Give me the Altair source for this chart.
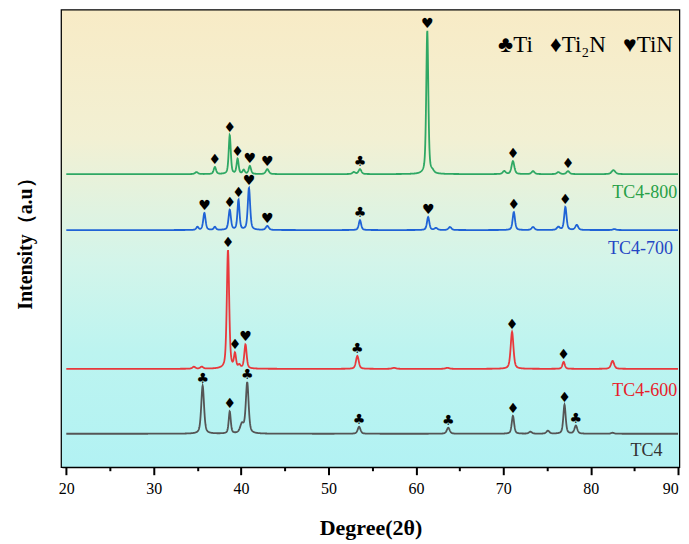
import altair as alt
import numpy as np
import pandas as pd

# ---------------- data ----------------
series_names = ["TC4", "TC4-600", "TC4-700", "TC4-800"]
line_colors = ["#555555", "#e8393c", "#1f63d6", "#2fa864"]
label_colors = ["#333333", "#e8202a", "#2446c4", "#27a046"]
offsets = [33, 98, 237, 293]

tc4_pos = [35.6, 38.7, 40.1, 40.7, 53.5, 63.7, 71.1, 73.1, 75.1, 77.0, 78.3, 82.5]
tc4_hgt = [48, 22, 9, 51, 7, 6, 18, 2, 3, 29, 8, 1]
tc4_fwhm = [0.38, 0.28, 0.5, 0.38, 0.38, 0.4, 0.32, 0.4, 0.4, 0.32, 0.38, 0.4]

tc600_pos = [34.6, 35.5, 38.5, 39.3, 39.8, 40.5, 53.3, 57.5, 63.6, 71.0, 76.9, 82.5]
tc600_hgt = [2, 2, 119, 14, 3, 24, 13, 1, 1, 37, 7, 8]
tc600_fwhm = [0.4, 0.4, 0.32, 0.28, 0.3, 0.32, 0.38, 0.5, 0.5, 0.38, 0.32, 0.42]

tc700_pos = [35.0, 35.8, 37.0, 38.7, 39.7, 40.9, 43.0, 53.6, 61.4, 62.3, 63.9, 71.2, 73.4, 76.3, 77.1, 78.4, 82.7]
tc700_hgt = [3, 17, 3, 20, 30, 42, 4, 10, 13, 2, 3, 18, 3, 3, 23, 5, 1]
tc700_fwhm = [0.3, 0.32, 0.3, 0.32, 0.28, 0.32, 0.4, 0.32, 0.32, 0.4, 0.4, 0.32, 0.4, 0.4, 0.32, 0.4, 0.4]

tc800_pos = [34.9, 37.0, 38.7, 39.6, 40.3, 41.0, 43.0, 52.9, 53.6, 61.3, 61.9, 70.1, 71.1, 73.4, 76.3, 77.4, 82.6]
tc800_hgt = [2, 7, 39, 15, 4, 8, 5, 2, 5, 144, 2, 3, 13, 3, 2, 3, 4]
tc800_fwhm = [0.4, 0.32, 0.28, 0.28, 0.3, 0.32, 0.4, 0.4, 0.38, 0.28, 0.4, 0.4, 0.38, 0.4, 0.4, 0.4, 0.5]

# phase markers: (series index, 2theta, symbol)
marker_series = [3, 3, 3, 3, 3, 3, 3, 3, 3,
                 2, 2, 2, 2, 2, 2, 2, 2, 2,
                 1, 1, 1, 1, 1, 1,
                 0, 0, 0, 0, 0, 0, 0, 0]
marker_pos = [37.0, 38.7, 39.6, 41.0, 43.0, 53.6, 61.3, 71.1, 77.4,
              35.8, 38.7, 39.7, 40.9, 43.0, 53.6, 61.4, 71.2, 77.1,
              38.5, 39.3, 40.5, 53.3, 71.0, 76.9,
              35.6, 38.7, 40.7, 53.5, 63.7, 71.1, 77.0, 78.3]
marker_sym = ["♦", "♦", "♦", "♥", "♥", "♣", "♥", "♦", "♦",
              "♥", "♦", "♦", "♥", "♥", "♣", "♥", "♦", "♦",
              "♦", "♦", "♥", "♣", "♦", "♦",
              "♣", "♦", "♣", "♣", "♣", "♦", "♦", "♣"]

label_x = [88.2, 89.9, 89.4, 89.9]
label_y = [16, 76, 218, 274]

legend_text = "♣Ti\u00a0\u00a0\u00a0♦Ti₂N\u00a0\u00a0\u00a0♥TiN"

# ---------------- build profiles from the peak lists ----------------
peaks = [(tc4_pos, tc4_hgt, tc4_fwhm), (tc600_pos, tc600_hgt, tc600_fwhm),
         (tc700_pos, tc700_hgt, tc700_fwhm), (tc800_pos, tc800_hgt, tc800_fwhm)]
grid = np.arange(20.0, 90.0001, 0.03)


def profile(pos, hgt, fwhm):
    y = np.zeros_like(grid)
    for p, h, w in zip(pos, hgt, fwhm):
        u = (grid - p) / (w / 2)
        y += h * (0.5 / (1 + u ** 2) + 0.5 * np.exp(-np.log(2) * u ** 2))
    return y


rows = []
curves = []
for i, (pos, hgt, fwhm) in enumerate(peaks):
    c = profile(pos, hgt, fwhm) + offsets[i]
    curves.append(c)
    rows.append(pd.DataFrame({"x": np.round(grid, 3), "y": np.round(c, 2),
                              "s": series_names[i], "o": i}))
lines_df = pd.concat(rows, ignore_index=True)

mk = []
for s, p, sym in zip(marker_series, marker_pos, marker_sym):
    idx = np.abs(grid - p) <= 0.15
    top = curves[s][idx].max()
    mk.append({"x": p, "y": float(top) + 3, "t": sym})
markers_df = pd.DataFrame(mk)

labels_df = pd.DataFrame({"x": label_x, "y": label_y, "t": series_names,
                          "c": label_colors})

W, H = 618, 457
xscale = alt.Scale(domain=[19.5, 90.1], nice=False, zero=False)
yscale = alt.Scale(domain=[0, H], nice=False, zero=False)

grad = alt.LinearGradient(
    gradient="linear", x1=0, y1=0, x2=0, y2=1,
    stops=[alt.GradientStop(offset=0, color="#f8ebc6"),
           alt.GradientStop(offset=0.28, color="#f2f0d3"),
           alt.GradientStop(offset=0.55, color="#d3f5ea"),
           alt.GradientStop(offset=0.75, color="#bcf4f0"),
           alt.GradientStop(offset=1, color="#b2f2f3")])

bg = alt.Chart(pd.DataFrame({"a": [0]})).mark_rect(color=grad).encode(
    x=alt.value(0), x2=alt.value(W), y=alt.value(0), y2=alt.value(H))

xaxis = alt.Axis(
    values=list(range(20, 91, 5)),
    labelExpr="datum.value % 10 === 0 ? datum.label : ''",
    tickSize={"condition": {"test": "datum.value % 10 === 0", "value": 8}, "value": 4},
    labelOverlap=False, grid=False, title="Degree(2θ)",
    labelFont="Liberation Serif", labelFontSize=16, labelColor="black",
    labelPadding=6, tickColor="black", tickWidth=2, domainColor="black",
    domainWidth=2, titleFont="Liberation Serif", titleFontSize=22,
    titleFontWeight="bold", titleColor="black", titlePadding=21)
yaxis = alt.Axis(labels=False, ticks=False, domain=False, grid=False,
                 title="Intensity（a.u）", titleFont="Liberation Serif",
                 titleFontSize=20, titleFontWeight="bold", titleColor="black",
                 titlePadding=26)

lines = alt.Chart(lines_df).mark_line(strokeWidth=1.8).encode(
    x=alt.X("x:Q", scale=xscale, axis=xaxis),
    y=alt.Y("y:Q", scale=yscale, axis=yaxis),
    color=alt.Color("s:N", scale=alt.Scale(domain=series_names, range=line_colors), legend=None),
    detail="s:N")

markers = alt.Chart(markers_df).mark_text(
    font="DejaVu Sans", fontSize=14, baseline="alphabetic", color="black").encode(
    x=alt.X("x:Q", scale=xscale), y=alt.Y("y:Q", scale=yscale), text="t:N")

labels = alt.Chart(labels_df).mark_text(
    font="Liberation Serif", fontSize=18, align="right", baseline="middle").encode(
    x=alt.X("x:Q", scale=xscale), y=alt.Y("y:Q", scale=yscale), text="t:N",
    color=alt.Color("c:N", scale=None))

legend = alt.Chart(pd.DataFrame({"x": [89.4], "y": [422], "t": [legend_text]})).mark_text(
    font="Liberation Serif", fontSize=23, align="right", baseline="middle", color="black").encode(
    x=alt.X("x:Q", scale=xscale), y=alt.Y("y:Q", scale=yscale), text="t:N")

chart = alt.layer(bg, lines, markers, labels, legend).properties(
    width=W, height=H, autosize=alt.AutoSizeParams(type="none"),
    padding={"left": 54, "top": 2, "right": 2, "bottom": 76},
    background="white"
).configure_view(stroke="black", strokeWidth=2.5)

chart.save("out.html", embed_options={"renderer": "svg", "actions": False})
